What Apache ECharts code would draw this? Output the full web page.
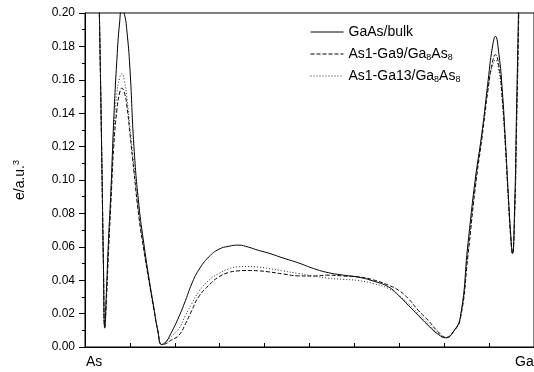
<!DOCTYPE html>
<html>
<head>
<meta charset="utf-8">
<script src="https://cdn.jsdelivr.net/npm/echarts@6/dist/echarts.min.js"></script>
<style>
  html, body { margin: 0; padding: 0; background: #fff; }
  #chart { width: 534px; height: 372px; }
</style>
</head>
<body>
<div id="chart"></div>
<script>
// position along the As-Ga line (axis ticks 0..10)
const xs = [0, 0.09, 0.2, 0.27, 0.32, 0.37, 0.41, 0.44, 0.48, 0.52,
  0.58, 0.64, 0.71, 0.77, 0.82, 0.88, 0.93, 1.0, 1.09, 1.2,
  1.31, 1.42, 1.53, 1.62, 1.71, 1.8, 1.91, 2.09, 2.24, 2.38,
  2.53, 2.76, 2.98, 3.2, 3.42, 3.64, 3.87, 4.09, 4.42, 4.76,
  5.09, 5.42, 5.76, 6.09, 6.42, 6.76, 6.98, 7.2, 7.42, 7.64,
  7.87, 8.04, 8.2, 8.36, 8.53, 8.69, 8.84, 8.98, 9.07, 9.14,
  9.22, 9.29, 9.36, 9.42, 9.48, 9.52, 9.57, 9.61, 9.66, 9.71, 9.8, 10];

// GaAs/bulk
const bulk = [0.9, 0.6, 0.38, 0.27, 0.2, 0.12, 0.05, 0.0113, 0.035, 0.062,
  0.095, 0.136, 0.172, 0.194, 0.202, 0.199, 0.19, 0.167, 0.12, 0.085,
  0.062, 0.042, 0.024, 0.01, 0.0015, 0.003, 0.008, 0.018, 0.028, 0.038,
  0.046, 0.054, 0.0585, 0.0603, 0.061, 0.0598, 0.0578, 0.0562, 0.0532, 0.0503,
  0.047, 0.0445, 0.043, 0.0418, 0.0395, 0.036, 0.031, 0.025, 0.019, 0.013,
  0.0075, 0.0055, 0.009, 0.018, 0.062, 0.1, 0.128, 0.16, 0.179, 0.186,
  0.175, 0.155, 0.125, 0.095, 0.068, 0.056, 0.085, 0.14, 0.21, 0.3, 0.5, 0.9];

// As1-Ga9/Ga8As8
const ga9 = [0.9, 0.6, 0.38, 0.27, 0.2, 0.12, 0.05, 0.012, 0.03, 0.055,
  0.088, 0.12, 0.142, 0.152, 0.155, 0.152, 0.145, 0.128, 0.105, 0.078,
  0.058, 0.04, 0.023, 0.01, 0.0015, 0.002, 0.004, 0.007, 0.014, 0.022,
  0.03, 0.037, 0.042, 0.0446, 0.0456, 0.0458, 0.0456, 0.045, 0.0437, 0.0426,
  0.0425, 0.043, 0.0425, 0.042, 0.0402, 0.037, 0.034, 0.029, 0.022, 0.016,
  0.009, 0.0058, 0.009, 0.017, 0.055, 0.095, 0.125, 0.155, 0.17, 0.175,
  0.168, 0.15, 0.122, 0.093, 0.066, 0.056, 0.08, 0.13, 0.2, 0.3, 0.5, 0.9];

// As1-Ga13/Ga8As8
const ga13 = [0.9, 0.6, 0.38, 0.27, 0.2, 0.12, 0.05, 0.012, 0.032, 0.058,
  0.094, 0.128, 0.152, 0.161, 0.1636, 0.159, 0.15, 0.132, 0.108, 0.08,
  0.059, 0.041, 0.024, 0.01, 0.0015, 0.003, 0.006, 0.011, 0.019, 0.026,
  0.033, 0.04, 0.044, 0.0468, 0.048, 0.0482, 0.0478, 0.047, 0.0455, 0.044,
  0.0425, 0.0412, 0.0405, 0.0398, 0.038, 0.035, 0.031, 0.026, 0.02, 0.014,
  0.008, 0.0056, 0.009, 0.018, 0.058, 0.097, 0.128, 0.156, 0.168, 0.172,
  0.165, 0.148, 0.121, 0.092, 0.066, 0.056, 0.08, 0.13, 0.2, 0.3, 0.5, 0.9];

const seriesNames = ['GaAs/bulk', 'As1-Ga9/Ga8As8', 'As1-Ga13/Ga8As8'];
const legendLabels = ['GaAs/bulk', 'As1-Ga9/Ga{sub|8}As{sub|8}', 'As1-Ga13/Ga{sub|8}As{sub|8}'];
const endLabels = ['As', 'Ga'];

const font = '"Liberation Sans", Arial, sans-serif';

function pairs(ys) {
  return xs.map((x, i) => [x, ys[i]]);
}

var myChart = echarts.init(document.getElementById('chart'));
var option = {
  animation: false,
  backgroundColor: '#fff',
  grid: {
    left: 85, right: -2, top: 13, bottom: 25,
    show: true, borderColor: '#000', borderWidth: 1
  },
  legend: {
    orient: 'vertical',
    left: 305, top: 19,
    itemWidth: 33, itemHeight: 10, itemGap: 6,
    data: seriesNames,
    itemStyle: { opacity: 0 },
    lineStyle: { width: 1 },
    formatter: function (name) {
      return legendLabels[seriesNames.indexOf(name)];
    },
    textStyle: {
      fontFamily: font, fontSize: 14, color: '#000', lineHeight: 16,
      rich: {
        sub: { fontFamily: font, fontSize: 9, lineHeight: 10, verticalAlign: 'bottom', color: '#000' }
      }
    }
  },
  xAxis: {
    type: 'value', min: 0, max: 10, interval: 1,
    axisLine: { lineStyle: { color: '#000', width: 1 } },
    axisTick: { inside: true, length: 4, lineStyle: { color: '#000' } },
    axisLabel: { show: false },
    splitLine: { show: false }
  },
  yAxis: {
    type: 'value', min: 0, max: 0.2, interval: 0.02,
    name: 'e/a.u.{sup|3}',
    nameLocation: 'middle', nameGap: 57,
    nameTextStyle: {
      fontFamily: font, fontSize: 14, color: '#000', lineHeight: 16,
      rich: {
        sup: { fontFamily: font, fontSize: 9, lineHeight: 10, verticalAlign: 'top', color: '#000' }
      }
    },
    axisLine: { show: true, lineStyle: { color: '#000', width: 1 } },
    axisTick: { show: true, length: 6, lineStyle: { color: '#000' } },
    minorTick: { show: true, splitNumber: 2, length: 3, lineStyle: { color: '#000' } },
    axisLabel: {
      fontFamily: font, fontSize: 12, color: '#000', margin: 10,
      formatter: function (v) { return v.toFixed(2); }
    },
    splitLine: { show: false }
  },
  graphic: [
    { type: 'text', left: 86, top: 355, style: { text: endLabels[0], font: '14px ' + font, fill: '#000' } },
    { type: 'text', left: 515, top: 355, style: { text: endLabels[1], font: '14px ' + font, fill: '#000' } }
  ],
  series: [
    {
      name: seriesNames[0], type: 'line', data: pairs(bulk),
      symbol: 'none', smooth: 0.5, clip: true,
      lineStyle: { color: '#000', width: 1, type: 'solid' },
      itemStyle: { color: '#000' }
    },
    {
      name: seriesNames[1], type: 'line', data: pairs(ga9),
      symbol: 'none', smooth: 0.5, clip: true,
      lineStyle: { color: '#000', width: 1, type: [4, 2] },
      itemStyle: { color: '#000' }
    },
    {
      name: seriesNames[2], type: 'line', data: pairs(ga13),
      symbol: 'none', smooth: 0.5, clip: true,
      lineStyle: { color: '#222', width: 1, type: [1, 2] },
      itemStyle: { color: '#222' }
    }
  ]
};
myChart.setOption(option);
</script>
</body>
</html>
